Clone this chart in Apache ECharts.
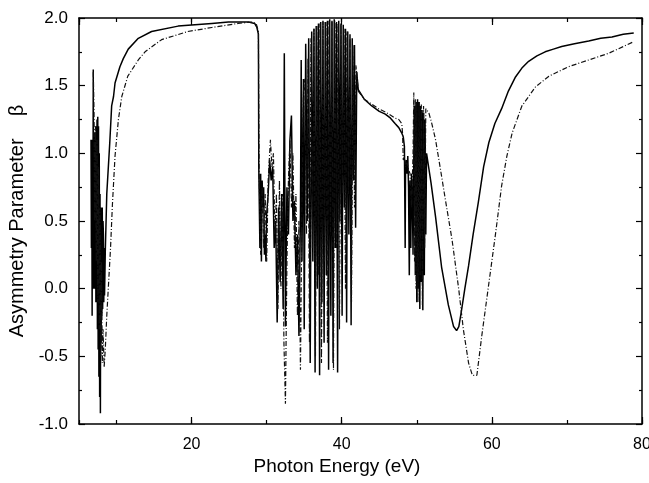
<!DOCTYPE html>
<html>
<head>
<meta charset="utf-8">
<script src="https://cdn.jsdelivr.net/npm/echarts@6/dist/echarts.min.js"></script>
<style>
html,body{margin:0;padding:0;background:#fff;}
#chart{width:649px;height:483px;}
</style>
</head>
<body>
<div id="chart"></div>
<script>
// ---- Data ----
const xLabelValues = [20, 40, 60, 80];

// Solid curve (photon energy eV, beta)
const solidX = [
  6.6, 6.65, 6.7, 6.75, 6.8, 6.85, 6.9, 6.95, 7.0, 7.05, 7.1, 7.15, 7.2, 7.25, 7.3, 7.35,
  7.4, 7.45, 7.5, 7.55, 7.6, 7.65, 7.7, 7.75, 7.8, 7.85, 7.9, 7.95, 8.0, 8.05, 8.1, 8.15,
  8.2, 8.25, 8.3, 8.35, 8.4, 8.45, 8.5, 8.7,
  9.1, 9.35, 9.6, 9.8, 10.45, 10.9, 11.56, 12.9, 14.67, 18.2, 22.7, 24.9, 27.6, 28.4,
  28.7, 28.9,
  28.95, 29.1, 29.2, 29.3, 29.4, 29.5, 29.6, 29.7, 29.8, 29.9, 30.0, 30.2, 30.4, 30.6,
  30.8, 31.0, 31.2, 31.4, 31.6, 31.8, 32.0, 32.2, 32.35, 32.5, 32.7, 32.9, 33.1, 33.3,
  33.5, 33.7, 33.9, 34.1, 34.3, 34.5, 34.6, 34.7, 34.9, 35.0, 35.2, 35.4, 35.6, 35.8,
  36.0, 36.15, 36.3, 36.45, 36.6, 36.75, 36.9, 37.05, 37.2, 37.35, 37.5, 37.65, 37.8,
  37.95, 38.1, 38.25, 38.4, 38.55, 38.7, 38.85, 39.0, 39.15, 39.3, 39.45, 39.6, 39.75,
  39.9, 40.05, 40.2, 40.35, 40.5, 40.65, 40.8, 40.95, 41.1, 41.25, 41.4, 41.55, 41.7,
  41.85, 42.0, 42.2,
  43.0, 44.0, 45.0, 45.8, 46.5, 47.1, 47.6, 48.0,
  48.2, 48.35, 48.45, 48.5, 48.6, 48.7, 48.8, 48.9, 49.0, 49.1, 49.2, 49.3, 49.4, 49.5,
  49.6, 49.7, 49.8, 49.9, 50.0, 50.1, 50.2, 50.3, 50.4, 50.5, 50.6, 50.7, 50.8, 50.9,
  51.0, 51.1, 51.2, 51.3,
  51.9, 52.5, 53.3, 54.2, 54.9, 55.3, 55.6, 55.9, 56.4, 56.9, 57.5, 58.2, 58.9, 59.6,
  60.4, 61.3, 62.2, 63.1, 64.0, 64.9, 66.0, 67.1, 68.2, 69.3, 71.0, 72.9, 74.5, 76.0,
  77.5, 78.9
];
const solidY = [
  1.10, 0.30, 1.05, -0.20, 1.10, 0.30, 1.62, 0.00, 1.05, 0.20, 1.15, 0.00, 1.10, -0.10, 1.20, -0.05,
  1.25, -0.30, 1.27, -0.45, 1.20, -0.65, 1.00, -0.80, 0.70, -0.92, 0.60, -0.40, 0.40, -0.20, 0.60, -0.15,
  0.50, 0.40, -0.10, 0.30, -0.05, 0.10, 0.27, 0.70,
  1.08, 1.35, 1.42, 1.52, 1.64, 1.70, 1.77, 1.85, 1.90, 1.94, 1.96, 1.97, 1.97, 1.96,
  1.93, 1.88,
  0.90, 0.30, 0.85, 0.20, 0.80, 0.60, 0.75, 0.25, 0.40, 0.20, 0.55, 0.70, 0.95, 0.80,
  0.90, 0.30, 0.50, -0.25, 0.60, 0.05, 0.70, -0.15, 1.74, -0.28, 0.75, 0.40, 1.10, 1.28,
  0.50, 0.65, 0.10, 0.40, -0.35, 0.55, 1.69, 0.20, 1.55, -0.30, 1.81, 0.50, 1.85, -0.55,
  1.90, 0.20, 1.92, -0.62, 1.94, 0.00, 1.96, -0.64, 1.97, -0.10, 1.98, -0.40, 1.97,
  0.10, 1.98, -0.60, 1.99, -0.20, 1.98, -0.55, 1.99, 0.30, 1.97, -0.62, 1.98, 0.50,
  1.96, -0.20, 1.95, 0.60, 1.92, -0.25, 1.90, 0.40, 1.88, -0.27, 1.85, 0.80, 1.80,
  0.45, 1.60, 1.47,
  1.40, 1.35, 1.31, 1.29, 1.26, 1.22, 1.19, 1.15,
  1.12, 1.05, 0.30, 0.90, 0.95, 0.85, 0.98, 0.75, 0.10, 0.80, 0.30, 0.85, 0.70, 0.25,
  0.95, 1.35, 0.10, 1.38, -0.10, 1.40, 0.00, 1.38, -0.15, 1.35, 0.05, 1.32, -0.16, 1.30,
  0.10, 1.25, 0.40, 1.00,
  0.78, 0.53, 0.16, -0.12, -0.28, -0.31, -0.28, -0.18, 0.00, 0.17, 0.40, 0.64, 0.90, 1.08,
  1.22, 1.33, 1.46, 1.56, 1.63, 1.68, 1.72, 1.75, 1.77, 1.79, 1.81, 1.83, 1.85, 1.86,
  1.88, 1.89
];

// Dash-dot curve (photon energy eV, beta)
const dashX = [
  6.9, 7.0, 7.1, 7.2, 7.3, 7.4, 7.5, 7.6, 7.7, 7.8, 7.9, 8.0, 8.1, 8.2, 8.35, 8.5,
  8.7, 8.9, 9.2, 9.45, 9.8, 10.25, 10.7, 11.5, 12.9, 13.8, 16.0, 19.5, 22.7, 26.2,
  28.0, 28.6, 28.9,
  29.0, 29.2, 29.4, 29.6, 29.8, 30.0, 30.2, 30.5, 30.7, 30.9, 31.1, 31.3, 31.5, 31.7,
  31.9, 32.1, 32.3, 32.5, 32.7, 32.9, 33.1, 33.3, 33.5, 33.7, 33.9, 34.1, 34.3, 34.5,
  34.7, 34.9, 35.1, 35.3, 35.5, 35.7, 35.9, 36.1, 36.3, 36.5, 36.7, 36.9, 37.1, 37.3,
  37.5, 37.7, 37.9, 38.1, 38.3, 38.5, 38.7, 38.9, 39.1, 39.3, 39.5, 39.7, 39.9, 40.1,
  40.3, 40.5, 40.7, 40.9, 41.1, 41.3, 41.5, 41.7, 41.9, 42.2,
  43.0, 44.9, 46.0, 47.1, 47.6, 48.0,
  48.1, 48.2, 48.35, 48.5, 48.7, 48.9, 49.1, 49.3, 49.5, 49.6, 49.7, 49.8, 49.9, 50.0,
  50.15, 50.3, 50.45, 50.6, 50.75, 50.9, 51.05, 51.2,
  51.4, 51.6, 52.0, 52.5, 53.1, 53.8, 54.7, 55.6, 56.2, 56.9, 57.4, 58.0, 58.7, 59.6,
  60.5, 61.3, 62.0, 62.7, 64.0, 65.8, 67.6, 70.2, 72.9, 75.6, 78.7
];
const dashY = [
  1.60, 1.30, 0.50, 1.20, 0.20, 1.10, -0.10, 0.90, -0.30, 0.60, -0.50, 0.20, -0.55, -0.30, -0.58, -0.45,
  -0.20, 0.00, 0.30, 0.62, 0.98, 1.25, 1.42, 1.57, 1.69, 1.75, 1.84, 1.90, 1.93, 1.96,
  1.97, 1.96, 1.90,
  0.85, 0.25, 0.75, 0.30, 0.70, 0.20, 0.80, 1.10, 0.90, 1.00, 0.40, 0.70, -0.15, 0.80,
  0.00, 0.70, -0.40, -0.85, 0.20, 0.80, 1.10, 0.60, 1.00, 0.30, 0.70, -0.20, 0.50, -0.60,
  0.60, 1.45, 1.55, 0.40, 1.70, -0.40, 1.85, 0.30, 1.92, -0.50, 1.94, 0.10, 1.96, -0.55,
  1.97, 0.20, 1.97, -0.40, 1.98, 0.40, 1.97, -0.60, 1.98, 0.30, 1.96, -0.30, 1.95, 0.70,
  1.92, 0.00, 1.90, 0.70, 1.85, -0.10, 1.80, 0.60, 1.65, 1.46,
  1.40, 1.33, 1.30, 1.26, 1.25, 1.22,
  1.15, 0.95, 0.98, 0.90, 0.93, 0.88, 0.85, 0.60, 1.00, 1.45, 0.20, 1.40, 0.00, 1.38,
  -0.10, 1.38, 0.10, 1.36, -0.12, 1.35, 0.30, 1.33,
  1.32, 1.30, 1.22, 1.10, 0.90, 0.66, 0.36, -0.01, -0.30, -0.55, -0.64, -0.64, -0.33, 0.04,
  0.41, 0.76, 0.98, 1.15, 1.35, 1.49, 1.57, 1.64, 1.69, 1.74, 1.82
];

const solidData = solidX.map((x, i) => [x, solidY[i]]);
const dashData = dashX.map((x, i) => [x, dashY[i]]);

const FONT = '"Liberation Sans", Arial, sans-serif';

// Major ticks every 20 (nice interval via splitNumber), minor ticks every 10.
function xAx(position, splitNumber, len, showLine, showLabels) {
  return {
    type: 'value', position: position, min: 5, max: 80, splitNumber: splitNumber,
    splitLine: { show: false },
    axisLine: { show: showLine, onZero: false, lineStyle: { color: '#000', width: 1.5 } },
    axisTick: { show: true, inside: true, length: len, lineStyle: { color: '#000', width: 1.2 } },
    axisLabel: showLabels ? {
      show: true, showMinLabel: false, showMaxLabel: true,
      color: '#000', fontSize: 16, fontFamily: FONT, margin: 13,
      formatter: v => (xLabelValues.indexOf(v) >= 0 ? String(v) : '')
    } : { show: false }
  };
}
function yAx(position, showLabels) {
  return {
    type: 'value', position: position, min: -1, max: 2, interval: 0.5,
    splitLine: { show: false },
    axisLine: { show: true, onZero: false, lineStyle: { color: '#000', width: 1.5 } },
    axisTick: { show: true, inside: true, length: 6, lineStyle: { color: '#000', width: 1.2 } },
    minorTick: { show: true, splitNumber: 2, length: 3, lineStyle: { color: '#000', width: 1.2 } },
    axisLabel: showLabels ? { show: true, color: '#000', fontSize: 17, fontFamily: FONT, margin: 11,
      formatter: v => v.toFixed(1) } : { show: false }
  };
}

const yLeft = yAx('left', true);
yLeft.name = 'Asymmetry Parameter    \u03b2';
yLeft.nameLocation = 'middle';
yLeft.nameGap = 39;
yLeft.nameTextStyle = { color: '#000', fontSize: 20, fontFamily: FONT };

const chart = echarts.init(document.getElementById('chart'), null, { renderer: 'canvas' });
chart.setOption({
  backgroundColor: '#fff',
  animation: false,
  grid: { left: 79, right: 7, top: 18, bottom: 59, containLabel: false, outerBoundsMode: 'none' },
  xAxis: [
    xAx('bottom', 4, 7, true, true),
    xAx('bottom', 8, 4, false, false),
    xAx('top', 4, 7, true, false),
    xAx('top', 8, 4, false, false)
  ],
  yAxis: [yLeft, yAx('right', false)],
  graphic: [{
    type: 'text', x: 337, y: 467,
    style: { text: 'Photon Energy (eV)', fill: '#000', font: '19px ' + FONT, textAlign: 'center', textVerticalAlign: 'middle' }
  }],
  series: [
    {
      type: 'line', data: solidData, xAxisIndex: 0, yAxisIndex: 0,
      showSymbol: false, symbol: 'none', clip: true,
      lineStyle: { color: '#000', width: 1.5 }
    },
    {
      type: 'line', data: dashData, xAxisIndex: 0, yAxisIndex: 0,
      showSymbol: false, symbol: 'none', clip: true,
      lineStyle: { color: '#111', width: 1.2, type: [5, 2, 1, 2] }
    }
  ]
});
</script>
</body>
</html>
